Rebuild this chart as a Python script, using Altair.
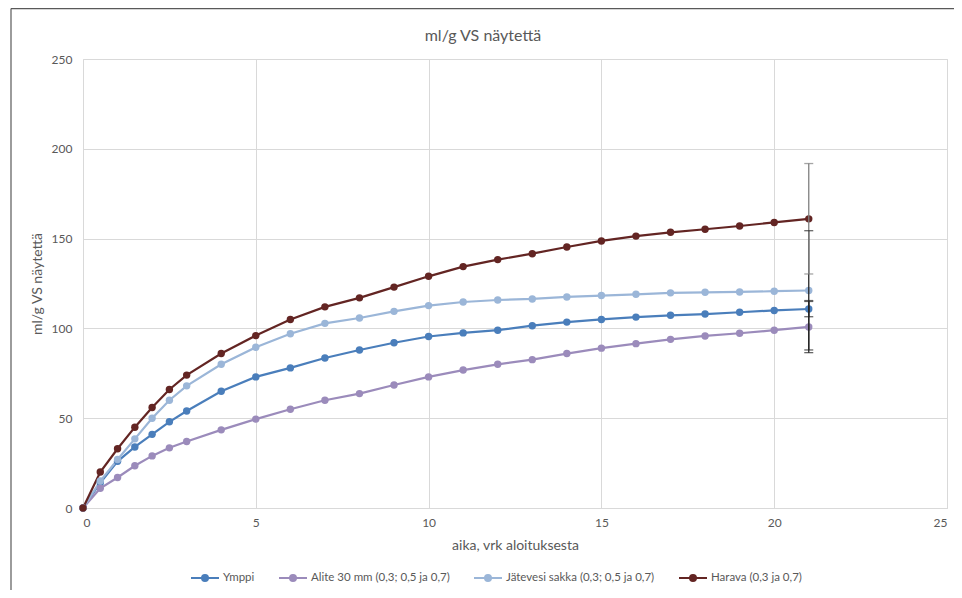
import altair as alt
import pandas as pd

days = [0, 0.5, 1, 1.5, 2, 2.5, 3, 4, 5, 6, 7, 8, 9, 10, 11, 12, 13, 14, 15, 16, 17, 18, 19, 20, 21]

series_names = [
    "Ymppi",
    "Alite 30 mm (0,3; 0,5 ja 0,7)",
    "Jätevesi sakka (0,3; 0,5 ja 0,7)",
    "Harava (0,3 ja 0,7)",
]
series_colors = ["#4a7ebb", "#9b8bbb", "#9bb6d8", "#632523"]

ymppi = [0, 14, 26, 34, 41, 48, 54, 65, 73, 78, 83.5, 88, 92, 95.5, 97.5, 99, 101.5, 103.5, 105, 106.3, 107.3, 108, 109, 110, 110.8]
alite = [0, 11, 17, 23.5, 29, 33.5, 37, 43.5, 49.5, 55, 60, 63.7, 68.5, 73, 76.8, 80, 82.6, 86, 89, 91.5, 93.9, 95.8, 97.3, 99, 100.8]
jatevesi = [0, 15, 27, 38.5, 50, 60, 68, 80, 89.5, 97, 102.8, 105.8, 109.5, 112.7, 114.7, 115.8, 116.4, 117.5, 118.3, 119, 119.8, 120.1, 120.3, 120.7, 121.1]
harava = [0, 20, 33, 45, 56, 66, 74, 86, 96, 105, 112, 117, 123, 129, 134.4, 138.3, 141.6, 145.3, 148.7, 151.4, 153.5, 155.2, 157, 159, 161]

err_day = [21, 21, 21, 21]
err_low = [106.5, 86.5, 88, 130.3]
err_high = [115, 115.5, 154.4, 191.8]
err_colors = ["#262626", "#262626", "#262626", "#7f7f7f"]

title_text = ["ml/g VS näytettä"]
x_title = "aika, vrk aloituksesta"
y_title = "ml/g VS näytettä"

rows = []
for name, vals in zip(series_names, [ymppi, alite, jatevesi, harava]):
    for d, v in zip(days, vals):
        rows.append({"day": d, "value": v, "series": name})
df = pd.DataFrame(rows)

err_df = pd.DataFrame({
    "day": err_day, "low": err_low, "high": err_high,
    "series": series_names, "ecol": err_colors,
    "order": [0, 1, 2, 3],
})

FONT = "Lato"
GRAY = "#595959"

xscale = alt.Scale(domain=[0, 25], nice=False)
yscale = alt.Scale(domain=[0, 250], nice=False)
color = alt.Color(
    "series:N",
    scale=alt.Scale(domain=series_names, range=series_colors),
    sort=series_names,
    legend=alt.Legend(
        title=None,
        orient="none",
        direction="horizontal",
        legendX=116,
        legendY=513,
        symbolType="M-2.8,0L2.8,0M-0.6,0A0.6,0.6,0,1,1,0.6,0A0.6,0.6,0,1,1,-0.6,0",
        symbolSize=100,
        symbolStrokeWidth=2,
        labelOffset=12,
        columnPadding=20,
        labelFont=FONT,
        labelFontSize=11.5,
        labelColor=GRAY,
        padding=0,
    ),
)

base = alt.Chart(df)

lines = base.mark_line(strokeWidth=2.2).encode(
    x=alt.X(
        "day:Q", scale=xscale,
        axis=alt.Axis(
            title=x_title, values=[0, 5, 10, 15, 20, 25], grid=True,
            gridColor="#d9d9d9", ticks=False, domainColor="#d9d9d9",
            labelFont=FONT, labelFontSize=12, labelColor=GRAY, labelPadding=9,
            titleFont=FONT, titleFontSize=14, titleColor=GRAY,
            titleFontWeight="normal", titlePadding=10,
        ),
    ),
    y=alt.Y(
        "value:Q", scale=yscale,
        axis=alt.Axis(
            title=y_title, values=[0, 50, 100, 150, 200, 250], grid=True,
            gridColor="#d9d9d9", ticks=False, domain=False,
            labelFont=FONT, labelFontSize=12, labelColor=GRAY, labelPadding=11,
            titleFont=FONT, titleFontSize=14, titleColor=GRAY,
            titleFontWeight="normal", titlePadding=7,
        ),
    ),
    color=color,
)

points = base.mark_point(filled=True, size=55, opacity=1).encode(
    x=alt.X("day:Q", scale=xscale),
    y=alt.Y("value:Q", scale=yscale),
    color=color,
)

err_base = alt.Chart(err_df)
err_rules = err_base.mark_rule(strokeWidth=1.3).encode(
    x=alt.X("day:Q", scale=xscale),
    y=alt.Y("low:Q", scale=yscale),
    y2="high:Q",
    stroke=alt.Stroke("ecol:N", scale=None, legend=None),
    order="order:Q",
)
err_cap_low = err_base.mark_tick(orient="horizontal", size=9, thickness=1.3).encode(
    x=alt.X("day:Q", scale=xscale),
    y=alt.Y("low:Q", scale=yscale),
    color=alt.Color("ecol:N", scale=None, legend=None),
)
err_cap_high = err_base.mark_tick(orient="horizontal", size=9, thickness=1.3).encode(
    x=alt.X("day:Q", scale=xscale),
    y=alt.Y("high:Q", scale=yscale),
    color=alt.Color("ecol:N", scale=None, legend=None),
)

one = pd.DataFrame({"a": [0]})
border_top = alt.Chart(one).mark_rule(color="#595959", strokeWidth=1.2).encode(
    x=alt.value(-72), x2=alt.value(890), y=alt.value(-50.4)
)
border_left = alt.Chart(one).mark_rule(color="#595959", strokeWidth=1.2).encode(
    x=alt.value(-72), y=alt.value(-50.4), y2=alt.value(540)
)
title_mark = alt.Chart(pd.DataFrame({"t": title_text})).mark_text(
    font=FONT, fontSize=16, color=GRAY, align="center", baseline="middle"
).encode(text="t:N", x=alt.value(400), y=alt.value(-23))

chart = alt.layer(
    lines, points, err_rules, err_cap_low, err_cap_high,
    border_top, border_left, title_mark
).properties(
    width=864,
    height=449,
    autosize=alt.AutoSizeParams(type="none"),
    padding={"left": 75, "top": 51, "right": 7, "bottom": 82},
).configure_view(stroke=None).configure(background="white")

chart.save("out.html", embed_options={"renderer": "svg", "actions": False})
